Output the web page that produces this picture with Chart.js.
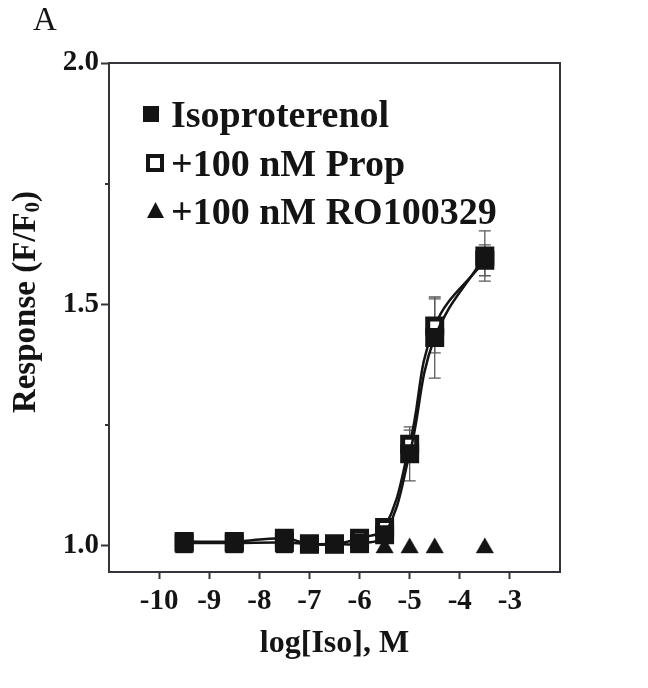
<!DOCTYPE html>
<html>
<head>
<meta charset="utf-8">
<script src="https://cdn.jsdelivr.net/npm/chart.js@4/dist/chart.umd.min.js"></script>
<style>
  html, body { margin: 0; padding: 0; background: #ffffff; }
  #wrap { width: 648px; height: 688px; }
</style>
</head>
<body>
<div id="wrap"><canvas id="c" width="648" height="688"></canvas></div>
<script>
// log molar concentration of isoproterenol
const logIso = [-9.5, -8.5, -7.5, -7, -6.5, -6, -5.5, -5, -4.5, -3.5];

// mean response (F/F0) and SEM for each condition
const isoResp  = [1.005, 1.005, 1.006, 1.003, 1.003, 1.004, 1.022, 1.190, 1.431, 1.600];
const isoSem   = [0.004, 0.004, 0.004, 0.004, 0.004, 0.004, 0.006, 0.056, 0.084, 0.052];
const propResp = [1.008, 1.008, 1.015, 1.003, 1.003, 1.015, 1.037, 1.210, 1.455, 1.591];
const propSem  = [0.004, 0.004, 0.004, 0.004, 0.004, 0.004, 0.006, 0.029, 0.056, 0.032];
const roResp   = [0.995, 0.995, 0.995, 0.995, 0.995, 0.995, 0.995, 0.995, 0.995, 0.995];

// axis ticks
const xTicks = [-10, -9, -8, -7, -6, -5, -4, -3];
const yTicks = [1.0, 1.5, 2.0];
const yMinorTicks = [1.25, 1.75];

const seriesNames = ['Isoproterenol', '+100 nM Prop', '+100 nM RO100329'];

const SERIF = '"Liberation Serif", "Times New Roman", serif';
const INK = '#141414';
const AXIS = '#34353a';

const toPoints = ys => logIso.map((x, i) => ({ x: x, y: ys[i] }));

// error bars for the two curve series, drawn under the markers
const errorBars = {
  id: 'errorBars',
  beforeDatasetsDraw(chart) {
    const { ctx, scales: { x, y } } = chart;
    const sets = [[isoResp, isoSem], [propResp, propSem]];
    ctx.save();
    ctx.strokeStyle = '#5a5a5e';
    ctx.lineWidth = 1.3;
    sets.forEach(([m, e]) => {
      logIso.forEach((lx, i) => {
        const px = x.getPixelForValue(lx);
        const top = y.getPixelForValue(m[i] + e[i]);
        const bot = y.getPixelForValue(m[i] - e[i]);
        ctx.beginPath();
        ctx.moveTo(px, top); ctx.lineTo(px, bot);
        ctx.moveTo(px - 6, top); ctx.lineTo(px + 6, top);
        ctx.moveTo(px - 6, bot); ctx.lineTo(px + 6, bot);
        ctx.stroke();
      });
    });
    ctx.restore();
  }
};

// top and right edges of the plot frame, plus short minor ticks on the y axis
const frame = {
  id: 'frame',
  afterDraw(chart) {
    const { ctx, chartArea: a, scales: { y } } = chart;
    ctx.save();
    ctx.strokeStyle = AXIS;
    ctx.lineWidth = 2;
    ctx.beginPath();
    ctx.moveTo(a.left, a.top);
    ctx.lineTo(a.right, a.top);
    ctx.lineTo(a.right, a.bottom);
    ctx.stroke();
    ctx.beginPath();
    yMinorTicks.forEach(v => {
      const py = Math.round(y.getPixelForValue(v));
      ctx.moveTo(a.left - 4, py);
      ctx.lineTo(a.left, py);
    });
    ctx.stroke();
    ctx.restore();
  }
};

// panel letter, y-axis title with subscript, and in-plot legend
const annotations = {
  id: 'annotations',
  afterDraw(chart) {
    const { ctx, chartArea: a } = chart;
    ctx.save();
    ctx.fillStyle = INK;

    // panel letter
    ctx.font = '33px ' + SERIF;
    ctx.textBaseline = 'alphabetic';
    ctx.textAlign = 'left';
    ctx.fillText('A', 33, 30);

    // y-axis title: Response (F/F0)
    ctx.save();
    ctx.translate(26, 302);
    ctx.rotate(-Math.PI / 2);
    const big = 'bold 33px ' + SERIF;
    const small = 'bold 21px ' + SERIF;
    const p1 = 'Response (F/F', p2 = '0', p3 = ')';
    ctx.font = big; const w1 = ctx.measureText(p1).width; const w3 = ctx.measureText(p3).width;
    ctx.font = small; const w2 = ctx.measureText(p2).width;
    let sx = -(w1 + w2 + w3) / 2;
    ctx.textBaseline = 'middle';
    ctx.font = big; ctx.fillText(p1, sx, 0); sx += w1;
    ctx.font = small; ctx.fillText(p2, sx, 8); sx += w2;
    ctx.font = big; ctx.fillText(p3, sx, 0);
    ctx.restore();

    // legend
    const rows = [
      { name: seriesNames[0], kind: 'filled', mx: 151, dy: 51 },
      { name: seriesNames[1], kind: 'open', mx: 155, dy: 100 },
      { name: seriesNames[2], kind: 'tri', mx: 155.5, dy: 148 }
    ];
    ctx.font = 'bold 38px ' + SERIF;
    ctx.textBaseline = 'alphabetic';
    rows.forEach(r => {
      const cy = a.top + r.dy;
      ctx.fillStyle = INK;
      ctx.strokeStyle = INK;
      if (r.kind === 'filled') {
        ctx.fillRect(r.mx - 8, cy - 8, 16, 16);
      } else if (r.kind === 'open') {
        ctx.lineWidth = 4;
        ctx.fillStyle = '#ffffff';
        ctx.fillRect(r.mx - 7, cy - 7, 14, 14);
        ctx.strokeRect(r.mx - 7, cy - 7, 14, 14);
        ctx.fillStyle = INK;
      } else {
        ctx.beginPath();
        ctx.moveTo(r.mx, cy - 9);
        ctx.lineTo(r.mx + 8.5, cy + 7);
        ctx.lineTo(r.mx - 8.5, cy + 7);
        ctx.closePath();
        ctx.fill();
      }
      ctx.fillText(r.name, 171, cy + 13);
    });
    ctx.restore();
  }
};

const tickFont = { family: SERIF, size: 29, weight: 'bold' };

const curveStyle = {
  showLine: true,
  tension: 0.4,
  borderColor: INK,
  borderWidth: 2.5
};

new Chart(document.getElementById('c'), {
  type: 'scatter',
  data: {
    datasets: [
      Object.assign({
        label: seriesNames[0],
        data: toPoints(isoResp),
        pointStyle: 'rect',
        pointRadius: 12,
        pointBackgroundColor: INK,
        pointBorderColor: INK,
        pointBorderWidth: 2
      }, curveStyle),
      Object.assign({
        label: seriesNames[1],
        data: toPoints(propResp),
        pointStyle: 'rect',
        pointRadius: 9.9,
        pointBackgroundColor: '#ffffff',
        pointBorderColor: INK,
        pointBorderWidth: 5
      }, curveStyle),
      {
        label: seriesNames[2],
        data: toPoints(roResp),
        showLine: false,
        pointStyle: 'triangle',
        pointRadius: 10,
        pointBackgroundColor: INK,
        pointBorderColor: INK,
        pointBorderWidth: 0.5
      }
    ]
  },
  options: {
    responsive: false,
    animation: false,
    events: [],
    layout: { padding: { left: 0, top: 63, right: 88, bottom: 0 } },
    plugins: {
      legend: { display: false },
      tooltip: { enabled: false }
    },
    scales: {
      x: {
        type: 'linear',
        min: -11,
        max: -2,
        afterBuildTicks: s => { s.ticks = xTicks.map(v => ({ value: v })); },
        afterFit: s => { s.height = 116; },
        ticks: { font: tickFont, color: INK, padding: 5, callback: v => String(v), maxRotation: 0 },
        grid: { drawOnChartArea: false, drawTicks: true, tickLength: 7, color: AXIS, tickWidth: 2 },
        border: { display: true, color: AXIS, width: 2 },
        title: {
          display: true,
          text: 'log[Iso], M',
          color: INK,
          font: { family: SERIF, size: 32, weight: 'bold' },
          padding: { top: 0, bottom: 25 }
        }
      },
      y: {
        type: 'linear',
        min: 0.945,
        max: 2.0,
        afterBuildTicks: s => { s.ticks = yTicks.map(v => ({ value: v })); },
        afterFit: s => { s.width = 109; },
        ticks: { font: tickFont, color: INK, padding: 2, callback: v => v.toFixed(1) },
        grid: { drawOnChartArea: false, drawTicks: true, tickLength: 8, color: AXIS, tickWidth: 2 },
        border: { display: true, color: AXIS, width: 2 }
      }
    }
  },
  plugins: [errorBars, frame, annotations]
});
</script>
</body>
</html>
